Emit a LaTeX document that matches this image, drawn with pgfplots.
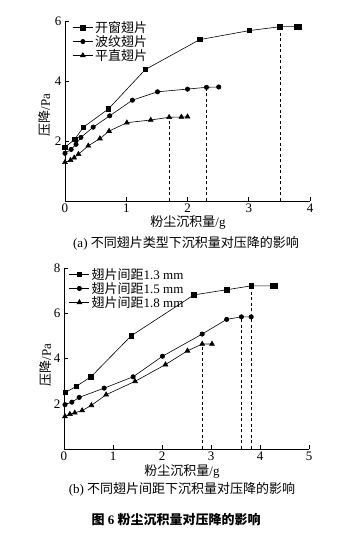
\documentclass[border=0pt]{standalone}
\usepackage{fontspec}
\setmainfont{Liberation Serif}
\newfontfamily\cjk{Noto Sans CJK SC}
\usepackage{pgfplots}
\pgfplotsset{compat=1.18}
\newcommand{\fs}{\fontsize{13bp}{15bp}\selectfont}
\pgfplotsset{
  myax/.style={
    scale only axis, anchor=south west,
    axis x line*=bottom, axis y line*=left,
    axis line style={black, line width=0.6bp, -},
    tick style={black, line width=0.6bp},
    major tick length=4bp, tick align=inside,
    tick label style={font=\fs},
    xticklabel style={yshift=1bp},
    /pgf/number format/assume math mode=true,
    every axis plot/.append style={black, line width=0.6bp},
    legend style={draw=none, fill=none, font=\fs, inner sep=0pt, row sep=-2.5bp,
      cells={anchor=west}},
    legend image code/.code={\draw[mark repeat=2,mark phase=2,#1] plot coordinates {(0bp,0bp) (10bp,0bp) (20bp,0bp)};},
  },
  sq/.style={mark=square*, mark size=2.2bp},
  ci/.style={mark=*, mark size=2.2bp},
  tr/.style={mark=triangle*, mark size=2.8bp},
  dl/.style={dashed, line width=0.6bp, dash pattern=on 3bp off 2.5bp, forget plot},
}
\begin{document}
\begin{tikzpicture}
\path[use as bounding box] (0,0) rectangle (360bp,536bp);
\begin{axis}[myax, at={(65bp,335bp)}, width=245bp, height=180bp,
  xmin=0, xmax=4, ymin=0, ymax=6, xtick={0,1,2,3,4}, ytick={2,4,6},
  legend style={at={(0.03,1.01)}, anchor=north west}]
\addplot[sq] coordinates {(0,1.79)(0.16,2.06)(0.30,2.46)(0.71,3.07)(1.31,4.38)(2.20,5.38)(3.01,5.68)(3.51,5.81)(3.78,5.81)(3.82,5.81)};
\addlegendentry{\cjk 开窗翅片}
\addplot[ci] coordinates {(0,1.59)(0.10,1.72)(0.18,1.89)(0.26,2.12)(0.46,2.46)(0.73,2.84)(1.10,3.36)(1.51,3.64)(2.00,3.73)(2.31,3.79)(2.51,3.80)};
\addlegendentry{\cjk 波纹翅片}
\addplot[tr] coordinates {(0,1.29)(0.09,1.36)(0.15,1.44)(0.22,1.56)(0.38,1.84)(0.57,2.08)(0.72,2.33)(1.01,2.61)(1.40,2.70)(1.70,2.79)(1.90,2.80)(2.00,2.81)};
\addlegendentry{\cjk 平直翅片}
\addplot[dl] coordinates {(1.70,0)(1.70,2.79)};
\addplot[dl] coordinates {(2.31,0)(2.31,3.79)};
\addplot[dl] coordinates {(3.51,0)(3.51,5.81)};
\end{axis}
\begin{axis}[myax, at={(64bp,87bp)}, width=245bp, height=181bp,
  xmin=0, xmax=5, ymin=0, ymax=8, xtick={0,1,2,3,4,5}, ytick={2,4,6,8},
  legend style={at={(0.02,1.01)}, anchor=north west}]
\addplot[sq] coordinates {(0.03,2.50)(0.25,2.77)(0.55,3.19)(1.37,5.00)(2.65,6.81)(3.32,7.04)(3.82,7.21)(4.25,7.21)(4.30,7.21)};
\addlegendentry{{\cjk 翅片间距}1.3 mm}
\addplot[ci] coordinates {(0.02,1.96)(0.16,2.07)(0.31,2.28)(0.82,2.69)(1.41,3.19)(2.01,4.10)(2.82,5.08)(3.32,5.73)(3.62,5.84)(3.82,5.84)};
\addlegendentry{{\cjk 翅片间距}1.5 mm}
\addplot[tr] coordinates {(0.02,1.44)(0.12,1.54)(0.22,1.60)(0.37,1.70)(0.56,1.93)(0.86,2.40)(1.45,2.99)(2.07,3.73)(2.52,4.34)(2.82,4.64)(3.02,4.64)};
\addlegendentry{{\cjk 翅片间距}1.8 mm}
\addplot[dl] coordinates {(2.82,0)(2.82,4.64)};
\addplot[dl] coordinates {(3.62,0)(3.62,5.84)};
\addplot[dl] coordinates {(3.82,0)(3.82,7.21)};
\end{axis}
\node[font=\fs, rotate=90] at (45bp,421bp) {{\cjk 压降}/Pa};
\node[font=\fs, rotate=90] at (46bp,171bp) {{\cjk 压降}/Pa};
\node[font=\fs] at (188bp,314bp) {{\cjk 粉尘沉积量}/g};
\node[font=\fs] at (182bp,64.5bp) {{\cjk 粉尘沉积量}/g};
\node[font=\fs] at (186bp,293bp) {(a) {\cjk 不同翅片类型下沉积量对压降的影响}};
\node[font=\fs] at (182bp,47bp) {(b) {\cjk 不同翅片间距下沉积量对压降的影响}};
\node[font=\fontsize{13bp}{15bp}\selectfont\bfseries] at (176bp,16bp) {{\cjk\bfseries 图} 6 {\cjk\bfseries 粉尘沉积量对压降的影响}};
\end{tikzpicture}
\end{document}
